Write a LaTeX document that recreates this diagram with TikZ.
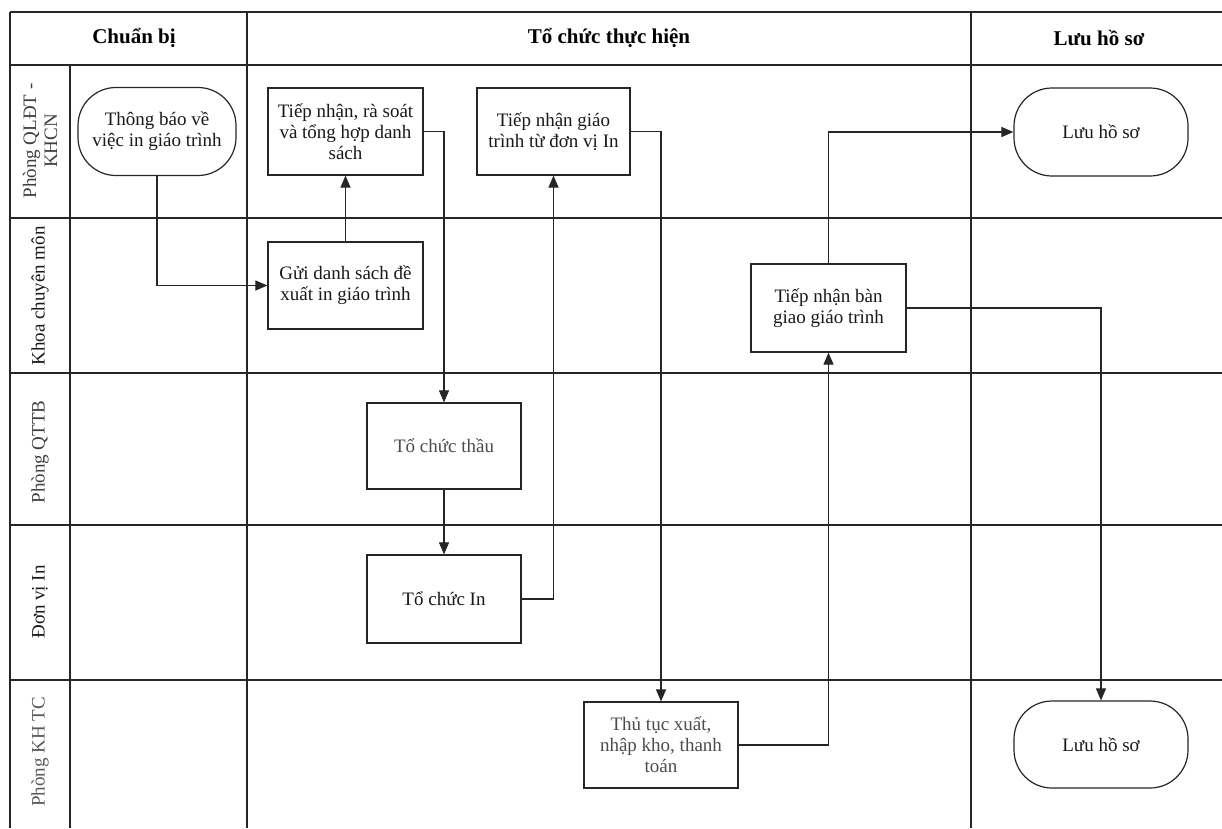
\documentclass[tikz,border=0pt]{standalone}
\usepackage{fontspec}
\setmainfont{Liberation Serif}
\usetikzlibrary{arrows.meta}
\begin{document}
\begin{tikzpicture}[x=1pt,y=-1pt,
  gridline/.style={draw=black!85, line width=1.3pt},
  txt/.style={font=\fontsize{19}{21}\selectfont, text=black!90, align=center},
  hdr/.style={font=\fontsize{21}{24}\selectfont\bfseries, text=black, align=center},
  lane/.style={font=\fontsize{19}{21}\selectfont, text=black!75, align=center, rotate=90},
  box/.style={txt, draw=black!85, line width=1.2pt, rectangle, inner sep=2pt,
              minimum width=155pt, minimum height=87pt},
  term/.style={txt, draw=black!85, line width=1.2pt, rectangle, rounded corners=38pt,
               inner sep=2pt, minimum width=174pt, minimum height=88pt},
  flow/.style={draw=black!85, line width=1.1pt, -{Triangle[length=12pt,width=10pt]}}
]
\useasboundingbox (0,0) rectangle (1222,828);
\fill[white] (0,0) rectangle (1222,828);

% grid
\draw[gridline] (10,12) -- (1222,12);
\draw[gridline, line width=1.7pt] (10,65) -- (1222,65);
\foreach \yy in {218,373,525,680} \draw[gridline] (10,\yy) -- (1222,\yy);
\draw[gridline] (10,12) -- (10,828);
\draw[gridline] (70,65) -- (70,828);
\draw[gridline] (247,12) -- (247,828);
\draw[gridline] (971,12) -- (971,828);

% headers
\node[hdr] (h1) at (134,38) {Chuẩn bị};
\node[hdr] (h2) at (609,38) {Tổ chức thực hiện};
\node[hdr] (h3) at (1099,38) {Lưu hồ sơ};

% lane labels
\node[lane] (l1) at (40,141) {Phòng QLĐT -\\KHCN};
\node[lane, text=black!90] (l2) at (40,296) {Khoa chuyên môn};
\node[lane] (l3) at (40,452) {Phòng QTTB};
\node[lane, text=black!90] (l4) at (40,602) {Đơn vị In};
\node[lane, text=black!65] (l5) at (40,752) {Phòng KH TC};

% nodes
\node[term, minimum width=158pt] (tb) at (157,131.5) {Thông báo về\\việc in giáo trình};
\node[box] (tn1) at (345.5,131.5) {Tiếp nhận, rà soát\\và tổng hợp danh\\sách};
\node[box, minimum width=153pt] (tn2) at (553.5,131.5) {Tiếp nhận giáo\\trình từ đơn vị In};
\node[term] (luu1) at (1101,132) {Lưu hồ sơ};
\node[box] (gui) at (345.5,285.5) {Gửi danh sách đề\\xuất in giáo trình};
\node[box, minimum height=88pt] (tnbg) at (828.5,308) {Tiếp nhận bàn\\giao giáo trình};
\node[box, minimum width=154pt, minimum height=86pt, text=black!70] (thau) at (444,446) {Tổ chức thầu};
\node[box, minimum width=154pt, minimum height=88pt] (in) at (444,599) {Tổ chức In};
\node[box, minimum width=154pt, minimum height=86pt, text=black!70] (thutuc) at (661,745) {Thủ tục xuất,\\nhập kho, thanh\\toán};
\node[term, minimum height=87pt] (luu2) at (1101,744.5) {Lưu hồ sơ};

% connectors
\draw[flow] (tb.south) |- (gui.west);
\draw[flow] (gui.north) -- (tn1.south);
\draw[flow] (tn1.east) -| (thau.north);
\draw[flow] (thau.south) -- (in.north);
\draw[flow] (in.east) -| (tn2.south);
\draw[flow] (tn2.east) -| (thutuc.north);
\draw[flow] (thutuc.east) -| (tnbg.south);
\draw[flow] (tnbg.north) |- (luu1.west);
\draw[flow] (tnbg.east) -| (luu2.north);
\end{tikzpicture}
\end{document}
